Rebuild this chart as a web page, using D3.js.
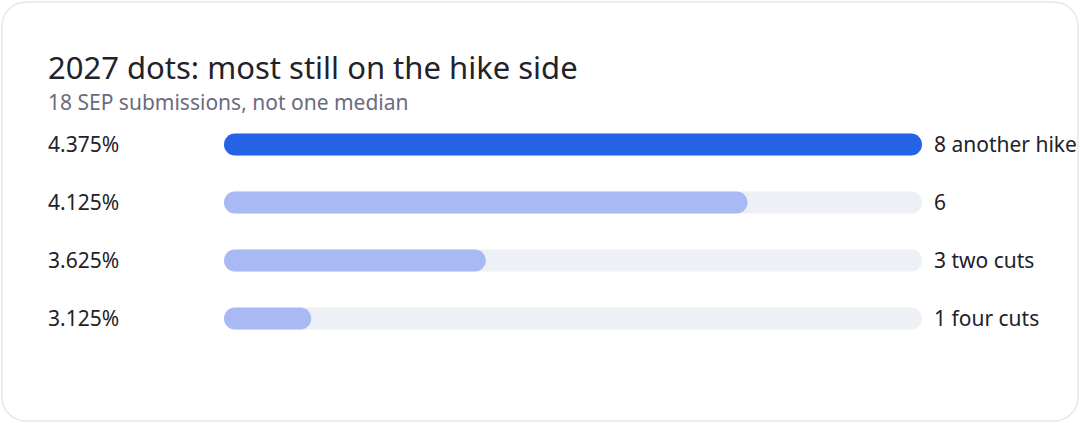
<!DOCTYPE html>
<html>
<head>
<meta charset="utf-8">
<script src="https://cdn.jsdelivr.net/npm/d3@7"></script>
<style>
  html, body { margin: 0; padding: 0; background: #fff; }
  body { font-family: "Noto Sans", sans-serif; }
</style>
</head>
<body>
<svg width="1080" height="423"></svg>
<script>
const rates = ['4.375%', '4.125%', '3.625%', '3.125%'];
const counts = [8, 6, 3, 1];
const notes = ['another hike', '', 'two cuts', 'four cuts'];
const highlight = [true, false, false, false];

const svg = d3.select('svg');

svg.append('rect')
  .attr('x', 2).attr('y', 2)
  .attr('width', 1076).attr('height', 419)
  .attr('rx', 24)
  .attr('fill', '#fff')
  .attr('stroke', '#e5e7eb')
  .attr('stroke-width', 1.5);

svg.append('text')
  .attr('x', 48).attr('y', 79)
  .attr('font-size', 31)
  .attr('fill', '#22222a')
  .text('2027 dots: most still on the hike side');

svg.append('text')
  .attr('x', 48).attr('y', 110)
  .attr('font-size', 21)
  .attr('fill', '#6b6b80')
  .text('18 SEP submissions, not one median');

const x = d3.scaleLinear().domain([0, d3.max(counts)]).range([224, 922]);
const y = d3.scaleBand().domain(rates).range([97.5, 365.5]).padding(0.6207);

const rows = svg.selectAll('g.row')
  .data(rates)
  .enter()
  .append('g')
  .attr('class', 'row');

rows.append('text')
  .attr('x', 48)
  .attr('y', (d) => y(d) + y.bandwidth() / 2)
  .attr('dy', '0.35em')
  .attr('font-size', 21)
  .attr('fill', '#22222a')
  .text((d) => d);

rows.append('rect')
  .attr('x', x(0))
  .attr('y', (d) => y(d))
  .attr('width', x(d3.max(counts)) - x(0))
  .attr('height', y.bandwidth())
  .attr('rx', y.bandwidth() / 2)
  .attr('fill', '#edf0f5');

rows.append('rect')
  .attr('x', x(0))
  .attr('y', (d) => y(d))
  .attr('width', (d, i) => x(counts[i]) - x(0))
  .attr('height', y.bandwidth())
  .attr('rx', y.bandwidth() / 2)
  .attr('fill', (d, i) => highlight[i] ? '#2563e6' : '#a9b9f4');

rows.append('text')
  .attr('x', x(d3.max(counts)) + 12)
  .attr('y', (d) => y(d) + y.bandwidth() / 2)
  .attr('dy', '0.35em')
  .attr('font-size', 21)
  .attr('fill', '#22222a')
  .text((d, i) => notes[i] ? `${counts[i]} ${notes[i]}` : `${counts[i]}`);
</script>
</body>
</html>
